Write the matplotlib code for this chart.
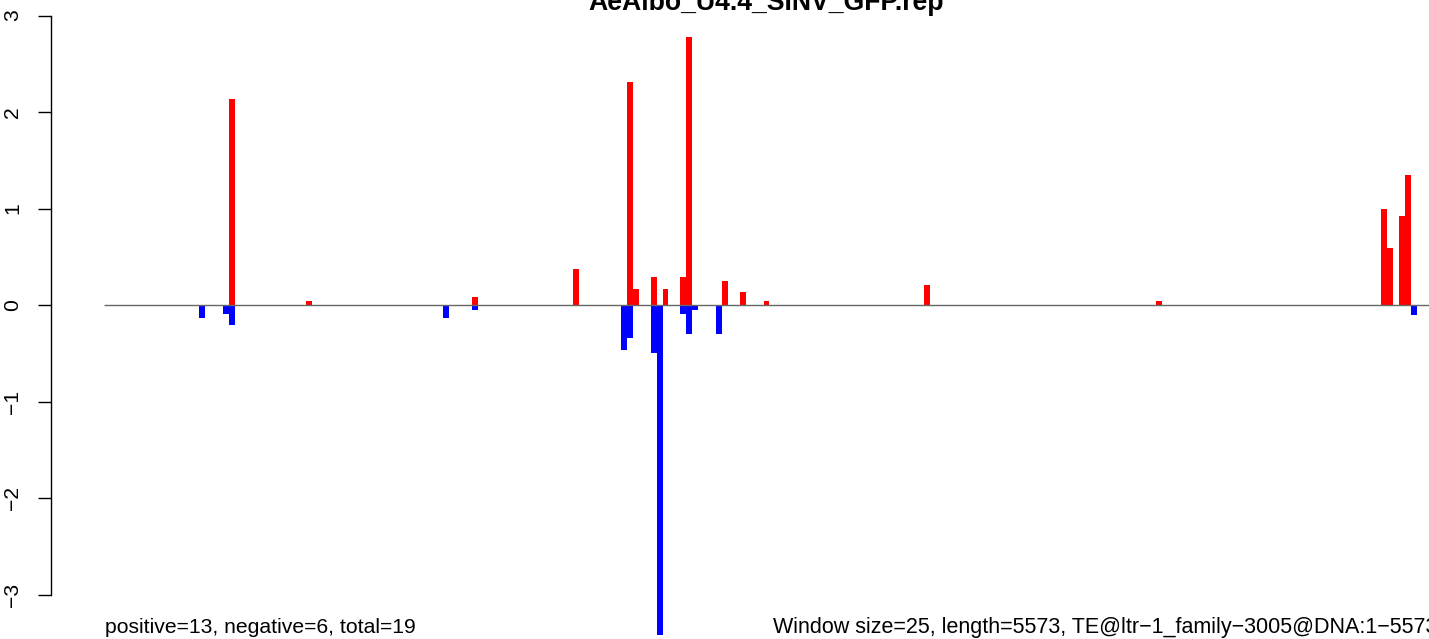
import matplotlib
matplotlib.use("Agg")
import matplotlib.pyplot as plt

plt.rcParams['font.family'] = ['Liberation Sans', 'DejaVu Sans']

# ---- Data (window index -> score), window size 25 over 5573 bp ----
n_windows = 223
title = "AeAlbo_U4.4_SINV_GFP.rep"

pos_idx = [21, 34, 62, 79, 88, 89, 92, 94, 97, 98, 104, 107, 111, 138, 177, 215, 216, 218, 219]
pos_val = [2.14, 0.04, 0.08, 0.37, 2.31, 0.17, 0.29, 0.17, 0.29, 2.78, 0.25, 0.13, 0.04, 0.21, 0.04,
           1.00, 0.59, 0.92, 1.35]

neg_idx = [16, 20, 21, 57, 62, 87, 88, 92, 93, 97, 98, 99, 103, 220]
neg_val = [-0.13, -0.09, -0.21, -0.13, -0.05, -0.47, -0.34, -0.50, -3.42, -0.09, -0.30, -0.05, -0.30, -0.10]

yticks = [-3, -2, -1, 0, 1, 2, 3]
left_note = "positive=13, negative=6, total=19"
right_note = "Window size=25, length=5573, TE@ltr\u22121_family\u22123005@DNA:1\u22125573"

# ---- Figure ----
W, H = 1429, 639
fig = plt.figure(figsize=(W / 100, H / 100), dpi=100)
ax = fig.add_axes([51 / W, 0, (1482 - 51) / W, 1])
ax.set_xlim(-0.04 * n_windows, 1.04 * n_windows)
ax.set_ylim(-3.461, 3.161)

ax.hlines(0, 0, n_windows, color="#666666", linewidth=1.0)
ax.bar(pos_idx, pos_val, width=1, align="edge", color="#ff0000", linewidth=0, antialiased=False)
ax.bar(neg_idx, neg_val, width=1, align="edge", color="#0000ff", linewidth=0, antialiased=False)

# R-style axis: only left axis from -3 to 3
for s in ["top", "right", "bottom"]:
    ax.spines[s].set_visible(False)
ax.spines["left"].set_bounds(-3, 3)
ax.spines["left"].set_linewidth(1.0)
ax.set_xticks([])
ax.set_yticks(yticks)
ax.set_yticklabels([str(t).replace("-", "\u2212") for t in yticks])
ax.tick_params(axis="y", length=9.4, width=1.0, pad=11.5, labelsize=15.2)
for lab in ax.get_yticklabels():
    lab.set_rotation(90)
    lab.set_va("center")
    lab.set_ha("right")
ax.patch.set_alpha(0)

fig.text(766.5 / W, 1 - 10 / H, title, ha="center", va="baseline", fontsize=19.2, fontweight="bold")
fig.text(105 / W, 6 / H, left_note, ha="left", va="baseline", fontsize=15.2)
fig.text(773 / W, 6 / H, right_note, ha="left", va="baseline", fontsize=15.5)

fig.savefig("out.png", dpi=100)
